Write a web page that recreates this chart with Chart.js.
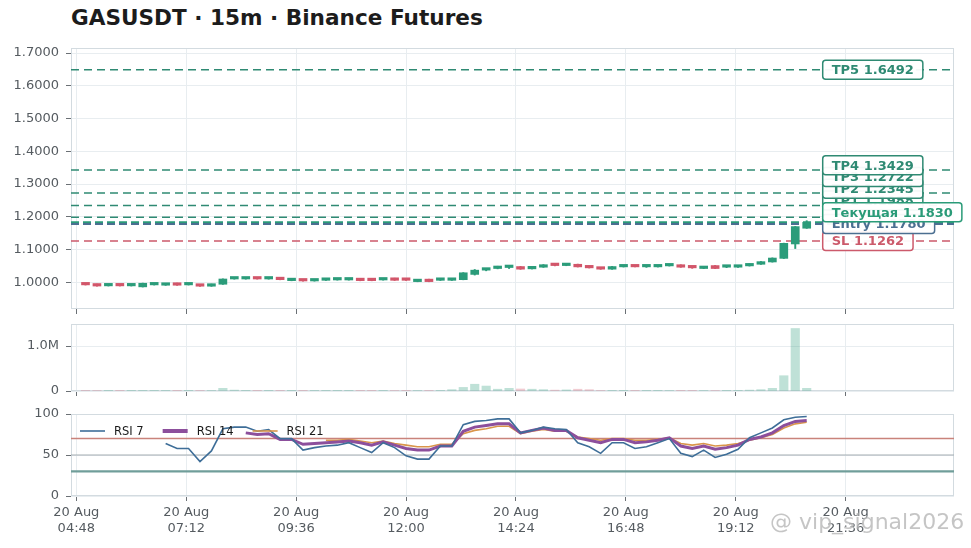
<!DOCTYPE html>
<html>
<head>
<meta charset="utf-8">
<script src="https://cdn.jsdelivr.net/npm/chart.js@4.4.1/dist/chart.umd.min.js"></script>
<style>
  html, body { margin: 0; padding: 0; background: #fff; width: 971px; height: 548px; overflow: hidden; font-family: "DejaVu Sans", sans-serif; }
  #title { position: absolute; left: 71px; top: 5px; font-size: 21.6px; font-weight: bold; color: #1c1c1c; white-space: nowrap; }
  canvas { position: absolute; left: 0; }
  #mark { position: absolute; left: 770px; top: 509px; font-size: 22px; color: rgba(150,150,150,0.55); white-space: nowrap; text-shadow: 0 0 2px #fff; }
</style>
</head>
<body>
<div id="title">GASUSDT · 15m · Binance Futures</div>
<canvas id="price" width="971" height="282" style="top:40px"></canvas>
<canvas id="vol" width="971" height="76" style="top:322px"></canvas>
<canvas id="rsi" width="971" height="150" style="top:398px"></canvas>
<div id="mark">@ vip_signal2026</div>
<script>
// candle open times, 20 Aug, 15m
const times = [
  '05:00','05:15','05:30','05:45','06:00','06:15','06:30','06:45',
  '07:00','07:15','07:30','07:45','08:00','08:15','08:30','08:45',
  '09:00','09:15','09:30','09:45','10:00','10:15','10:30','10:45',
  '11:00','11:15','11:30','11:45','12:00','12:15','12:30','12:45',
  '13:00','13:15','13:30','13:45','14:00','14:15','14:30','14:45',
  '15:00','15:15','15:30','15:45','16:00','16:15','16:30','16:45',
  '17:00','17:15','17:30','17:45','18:00','18:15','18:30','18:45',
  '19:00','19:15','19:30','19:45','20:00','20:15','20:30','20:45'
]
const opens = [
  0.9945,0.9940,0.9890,0.9910,0.9890,0.9860,0.9920,0.9910,
  0.9970,0.9920,0.9930,0.9880,0.9940,1.0100,1.0100,1.0110,
  1.0100,1.0110,1.0050,1.0080,1.0040,1.0060,1.0070,1.0070,
  1.0090,1.0080,1.0070,1.0120,1.0090,1.0020,1.0090,1.0060,
  1.0060,1.0080,1.0240,1.0370,1.0420,1.0450,1.0480,1.0410,
  1.0460,1.0530,1.0510,1.0550,1.0490,1.0450,1.0400,1.0470,
  1.0500,1.0470,1.0470,1.0500,1.0530,1.0450,1.0420,1.0510,
  1.0460,1.0460,1.0500,1.0550,1.0620,1.0730,1.1170,1.1650
]
const closes = [
  0.9920,0.9885,0.9910,0.9890,0.9910,0.9970,0.9940,0.9960,
  0.9910,0.9940,0.9880,0.9940,1.0100,1.0120,1.0110,1.0100,
  1.0110,1.0080,1.0080,1.0040,1.0080,1.0080,1.0080,1.0080,
  1.0050,1.0050,1.0110,1.0060,1.0060,1.0050,1.0020,1.0070,
  1.0080,1.0290,1.0370,1.0400,1.0480,1.0460,1.0400,1.0460,
  1.0530,1.0510,1.0530,1.0470,1.0440,1.0400,1.0480,1.0510,
  1.0470,1.0480,1.0500,1.0530,1.0460,1.0440,1.0480,1.0420,
  1.0470,1.0500,1.0560,1.0630,1.0740,1.1190,1.1700,1.1830
]
const highs = [
  0.9950,0.9945,0.9915,0.9915,0.9915,0.9975,0.9945,0.9965,
  0.9975,0.9945,0.9935,0.9945,1.0105,1.0150,1.0115,1.0115,
  1.0115,1.0115,1.0085,1.0085,1.0085,1.0085,1.0085,1.0085,
  1.0095,1.0085,1.0115,1.0125,1.0095,1.0055,1.0095,1.0075,
  1.0085,1.0295,1.0390,1.0420,1.0490,1.0490,1.0485,1.0465,
  1.0540,1.0540,1.0535,1.0555,1.0495,1.0455,1.0485,1.0515,
  1.0505,1.0500,1.0505,1.0535,1.0535,1.0465,1.0485,1.0515,
  1.0490,1.0505,1.0565,1.0635,1.0745,1.1195,1.1705,1.1880
]
const lows = [
  0.9915,0.9880,0.9885,0.9885,0.9885,0.9855,0.9915,0.9905,
  0.9905,0.9915,0.9875,0.9875,0.9935,1.0095,1.0095,1.0095,
  1.0095,1.0075,1.0045,1.0035,1.0035,1.0055,1.0065,1.0065,
  1.0045,1.0045,1.0065,1.0055,1.0055,1.0015,1.0015,1.0055,
  1.0055,1.0075,1.0220,1.0350,1.0410,1.0420,1.0395,1.0405,
  1.0455,1.0500,1.0505,1.0465,1.0435,1.0395,1.0395,1.0465,
  1.0465,1.0455,1.0465,1.0495,1.0455,1.0425,1.0415,1.0415,
  1.0445,1.0455,1.0495,1.0545,1.0615,1.0725,1.1030,1.1645
]
const volumes = [
  8000,10000,6000,6000,5000,15000,6000,8000,
  7000,5000,9000,12000,60000,20000,6000,5000,
  6000,8000,5000,15000,8000,5000,4000,5000,
  6000,5000,8000,12000,15000,10000,14000,8000,
  30000,80000,150000,110000,40000,60000,45000,40000,
  30000,20000,25000,40000,30000,10000,8000,6000,
  15000,8000,6000,12000,15000,8000,10000,12000,
  6000,15000,20000,30000,60000,340000,1390000,60000
]
const rsi7 = [
  null,null,null,null,null,null,null,
  64,58,58,42,55,82,84,84,79,81,70,70,56,59,61,62,65,59,53,65,59,49,45,45,61,
  61,87,91,92,94,94,77,80,84,82,81,65,60,52,65,65,58,60,65,70,52,48,56,47,51,
  57,71,77,83,93,96,97
]
const rsi14 = [
  null,null,null,null,null,null,null,null,null,null,null,null,null,null,
  77,75,76,69,69,63,64,65,66,67,65,62,66,62,58,56,56,61,61,79,
  84,86,88,88,77,80,83,80,80,71,68,65,69,69,65,66,68,71,61,58,
  61,57,59,62,69,72,77,86,91,92
]
const rsi21 = [
  null,null,null,null,null,null,null,null,null,null,null,
  null,null,null,null,null,null,null,null,null,null,
  68,68,69,67,65,67,64,62,60,60,63,63,76,80,82,85,85,76,79,81,
  79,79,72,70,68,70,70,68,68,69,71,64,62,64,61,62,64,68,71,75,
  83,88,90
]
// signal levels
const levelNames = ['TP5', 'TP4', 'TP3', 'TP2', 'TP1', 'Текущая', 'Entry', 'SL']
const levelValues = [1.6492, 1.3429, 1.2722, 1.2345, 1.1988, 1.1830, 1.1780, 1.1262]

const tickDay = '20 Aug'
const tickTimes = ['04:48', '07:12', '09:36', '12:00', '14:24', '16:48', '19:12', '21:36']
const priceTicks = [1.0, 1.1, 1.2, 1.3, 1.4, 1.5, 1.6, 1.7]
const volumeTicks = [0, 1000000]
const rsiTicks = [0, 50, 100]
const rsiLevels = [70, 50, 30]

// ---- styling ----
const FONT = '"DejaVu Sans", sans-serif'
const TICK_COLOR = '#555b60'
const GRID_COLOR = '#e8edf0'
const SPINE_COLOR = '#d3dbe0'
const UP = '#2b9c7a'
const DOWN = '#d2566a'
const UP_VOL = 'rgba(43,156,122,0.3)'
const DOWN_VOL = 'rgba(210,86,106,0.3)'
const X_MIN = 281
const X_MAX = 1438

const levelStyle = {
  TP: { color: '#2f8a73', width: 1.5, dash: [8, 5] },
  'Текущая': { color: '#2a9b78', width: 2.2, dash: [8, 4] },
  Entry: { color: '#4b6f91', width: 2, dash: [8, 4] },
  SL: { color: '#cc5a6b', width: 1.5, dash: [8, 5] }
}
const rsiLevelStyle = {
  70: { color: '#c9837b', width: 1.5 },
  50: { color: '#a3acb1', width: 1 },
  30: { color: '#709e9a', width: 2.2 }
}

const toMin = s => Number(s.slice(0, 2)) * 60 + Number(s.slice(3))
const xs = times.map(toMin)
const isUp = i => closes[i] >= opens[i]

function xAxis(showLabels, height) {
  return {
    type: 'linear',
    min: X_MIN,
    max: X_MAX,
    offset: false,
    afterBuildTicks: s => { s.ticks = tickTimes.map(t => ({ value: toMin(t) })) },
    ticks: {
      display: showLabels,
      autoSkip: false,
      maxRotation: 0,
      color: TICK_COLOR,
      padding: 4,
      font: { family: FONT, size: 13 },
      callback: (v, i) => [tickDay, tickTimes[i]]
    },
    grid: { color: GRID_COLOR, offset: false, drawTicks: true, tickLength: 5, tickColor: '#6b7075', tickWidth: 1 },
    border: { display: false },
    afterFit: s => { s.height = height; s.paddingLeft = 0; s.paddingRight = 0 }
  }
}

function yAxis(min, max, tickValues, fmt) {
  return {
    type: 'linear',
    min: min,
    max: max,
    afterBuildTicks: s => { s.ticks = tickValues.map(v => ({ value: v })) },
    ticks: { color: TICK_COLOR, padding: 7, font: { family: FONT, size: 13 }, callback: fmt },
    grid: { color: GRID_COLOR, drawTicks: true, tickLength: 5, tickColor: '#6b7075', tickWidth: 1 },
    border: { display: false },
    afterFit: s => { s.width = 71; s.paddingTop = 0; s.paddingBottom = 0 }
  }
}

const frame = {
  id: 'frame',
  beforeDatasetsDraw(chart) {
    const a = chart.chartArea, ctx = chart.ctx
    ctx.save()
    ctx.strokeStyle = SPINE_COLOR
    ctx.lineWidth = 1
    ctx.strokeRect(Math.round(a.left) + 0.5, Math.round(a.top) + 0.5,
      Math.round(a.right - a.left) - 1, Math.round(a.bottom - a.top) - 1)
    ctx.restore()
  }
}

const baseOptions = (padTop) => ({
  responsive: false,
  animation: false,
  events: [],
  layout: { padding: { top: padTop, right: 17, left: 0, bottom: 0 } },
  plugins: { legend: { display: false }, tooltip: { enabled: false } }
})

// ---- price panel ----
const levels = levelNames.map((n, i) => ({ name: n, value: levelValues[i] }))
const styleOf = n => levelStyle[n.startsWith('TP') ? 'TP' : n]

const levelPlugin = {
  id: 'levels',
  beforeDatasetsDraw(chart) {
    const a = chart.chartArea, y = chart.scales.y, ctx = chart.ctx
    ctx.save()
    levels.forEach(l => {
      const st = styleOf(l.name)
      const py = y.getPixelForValue(l.value)
      ctx.strokeStyle = st.color
      ctx.lineWidth = st.width
      ctx.setLineDash(st.dash)
      ctx.beginPath()
      ctx.moveTo(a.left, py)
      ctx.lineTo(a.right, py)
      ctx.stroke()
    })
    ctx.restore()
  },
  afterDatasetsDraw(chart) {
    const y = chart.scales.y, x = chart.scales.x, ctx = chart.ctx
    const left = x.getPixelForValue(xs[xs.length - 1]) + 16
    // stack labels upward so they do not overlap
    const sorted = levels.slice().sort((p, q) => p.value - q.value)
    let prev = Infinity
    sorted.forEach(l => {
      l.py = Math.min(y.getPixelForValue(l.value), prev - 11.75)
      prev = l.py
    })
    const cur = sorted.filter(l => l.name === 'Текущая')
    const order = sorted.filter(l => l.name !== 'Текущая').concat(cur)
    ctx.save()
    ctx.font = 'bold 13px ' + FONT
    ctx.textBaseline = 'middle'
    order.forEach(l => {
      const st = styleOf(l.name)
      const text = l.name + ' ' + l.value.toFixed(4)
      const w = ctx.measureText(text).width + 18
      const h = 19
      const top = l.py - h / 2
      ctx.beginPath()
      ctx.roundRect(left, top, w, h, 3)
      ctx.fillStyle = 'rgba(255,255,255,0.95)'
      ctx.fill()
      ctx.lineWidth = 1.5
      ctx.strokeStyle = st.color
      ctx.stroke()
      ctx.fillStyle = st.color
      ctx.fillText(text, left + 9, l.py + 1)
    })
    ctx.restore()
  }
}

new Chart(document.getElementById('price'), {
  type: 'bar',
  data: {
    datasets: [
      {
        label: 'wick',
        data: xs.map((t, i) => ({ x: t, y: [lows[i], highs[i]] })),
        backgroundColor: xs.map((t, i) => isUp(i) ? UP : DOWN),
        barThickness: 1.3,
        grouped: false,
        order: 2
      },
      {
        label: 'body',
        data: xs.map((t, i) => ({ x: t, y: [opens[i], closes[i]] })),
        backgroundColor: xs.map((t, i) => isUp(i) ? UP : DOWN),
        barThickness: 8,
        minBarLength: 2.5,
        grouped: false,
        order: 1
      }
    ]
  },
  options: Object.assign(baseOptions(8), {
    scales: {
      x: xAxis(false, 13),
      y: yAxis(0.9184, 1.7153, priceTicks, v => v.toFixed(4))
    }
  }),
  plugins: [frame, levelPlugin]
})

// ---- volume panel ----
new Chart(document.getElementById('vol'), {
  type: 'bar',
  data: {
    datasets: [{
      label: 'Volume',
      data: xs.map((t, i) => ({ x: t, y: volumes[i] })),
      backgroundColor: xs.map((t, i) => isUp(i) ? UP_VOL : DOWN_VOL),
      barThickness: 8.5,
      grouped: false
    }]
  },
  options: Object.assign(baseOptions(2), {
    scales: {
      x: xAxis(false, 7),
      y: yAxis(0, 1490000, volumeTicks, v => v === 0 ? '0' : (v / 1e6).toFixed(1) + 'M')
    }
  }),
  plugins: [frame]
})

// ---- RSI panel ----
const rsiRefPlugin = {
  id: 'rsiRef',
  beforeDatasetsDraw(chart) {
    const a = chart.chartArea, y = chart.scales.y, ctx = chart.ctx
    ctx.save()
    rsiLevels.forEach(v => {
      const st = rsiLevelStyle[v]
      const py = y.getPixelForValue(v)
      ctx.strokeStyle = st.color
      ctx.lineWidth = st.width
      ctx.beginPath()
      ctx.moveTo(a.left, py)
      ctx.lineTo(a.right, py)
      ctx.stroke()
    })
    ctx.restore()
  },
  afterDatasetsDraw(chart) {
    const a = chart.chartArea, ctx = chart.ctx
    ctx.save()
    ctx.font = '11.5px ' + FONT
    ctx.textBaseline = 'middle'
    let px = a.left + 9
    const py = a.top + 17
    chart.data.datasets.forEach(ds => {
      ctx.strokeStyle = ds.borderColor
      ctx.lineWidth = ds.legendWidth
      ctx.beginPath()
      ctx.moveTo(px, py)
      ctx.lineTo(px + 25, py)
      ctx.stroke()
      ctx.fillStyle = '#1a1a1a'
      ctx.fillText(ds.label, px + 34, py + 1)
      px += 34 + ctx.measureText(ds.label).width + 19
    })
    ctx.restore()
  }
}

const rsiLine = (label, values, color, width, legendWidth) => ({
  type: 'line',
  label: label,
  data: xs.map((t, i) => ({ x: t, y: values[i] })),
  borderColor: color,
  borderWidth: width,
  legendWidth: legendWidth,
  pointRadius: 0,
  tension: 0,
  spanGaps: false
})

new Chart(document.getElementById('rsi'), {
  type: 'line',
  data: {
    datasets: [
      rsiLine('RSI 7', rsi7, '#3e6e98', 1.6, 1.6),
      rsiLine('RSI 14', rsi14, '#8c4f9c', 3, 4),
      rsiLine('RSI 21', rsi21, '#d9954a', 1.6, 1.6)
    ]
  },
  options: Object.assign(baseOptions(16), {
    scales: {
      x: xAxis(true, 52),
      y: yAxis(0, 100, rsiTicks, v => String(v))
    }
  }),
  plugins: [frame, rsiRefPlugin]
})
</script>
</body>
</html>
